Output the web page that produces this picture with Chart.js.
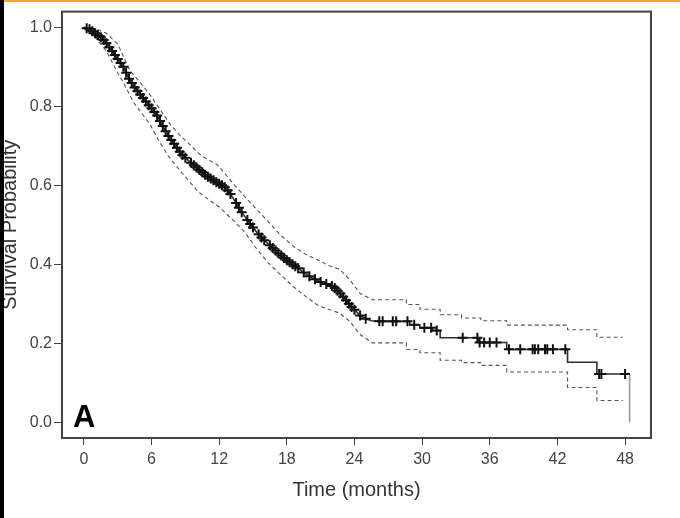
<!DOCTYPE html>
<html>
<head>
<meta charset="utf-8">
<script src="https://cdn.jsdelivr.net/npm/chart.js@4.4.1/dist/chart.umd.min.js"></script>
<style>
  html, body { margin: 0; padding: 0; background: #fff; }
  #quadro { position: relative; width: 680px; height: 518px; overflow: hidden; }
  #faixa { position: absolute; left: 0; top: 0; width: 680px; height: 2px; background: #f0a53a; }
  #barra { position: absolute; left: 0; top: 0; width: 4px; height: 518px; background: #000; }
</style>
</head>
<body>
<div id="quadro">
  <canvas id="grafico1" width="680" height="518"></canvas>
  <div id="faixa"></div>
  <div id="barra"></div>
</div>
<script>
// Curva de Kaplan-Meier (tempo em meses, probabilidade de sobrevida, 1 = censura "+")
var kmTime = [
  0, 0.25, 0.5, 0.75, 1, 1.25, 1.5, 1.75, 2, 2.25,
  2.5, 2.75, 3, 3.25, 3.5, 3.75, 4, 4.25, 4.5, 4.75,
  5, 5.25, 5.5, 5.75, 6, 6.25, 6.5, 6.75, 7, 7.25,
  7.5, 7.75, 8, 8.25, 8.5, 8.75, 9, 9.25, 9.5, 9.75,
  10, 10.25, 10.5, 10.75, 11, 11.25, 11.5, 11.75, 12, 12.25,
  12.5, 12.75, 13, 13.25, 13.5, 13.75, 14, 14.25, 14.5, 14.75,
  15, 15.25, 15.5, 15.75, 16, 16.5, 16.75, 17, 17.25, 17.5,
  17.75, 18, 18.25, 18.5, 18.75, 19, 19.5, 20, 20.5, 21,
  21.5, 22, 22.25, 22.5, 22.75, 23, 23.25, 23.5, 23.75, 24,
  24.5, 25, 25.5, 26.2, 26.5, 27.4, 27.7, 28.7, 28.9, 28.9,
  29.3, 29.8, 29.8, 30.2, 30.8, 30.9, 30.9, 31.3, 31.6, 31.6,
  33.6, 34.9, 35.0, 35.0, 35.1, 35.5, 36.0, 36.6, 37.5, 37.5,
  37.7, 38.7, 39.8, 40.0, 40.3, 40.9, 41.1, 41.6, 42.7, 42.9,
  42.9, 45.5, 45.5, 45.7, 45.9, 48.0, 48.4, 48.4
];
var kmSurv = [
  1.000, 0.998, 0.995, 0.990, 0.985, 0.980, 0.975, 0.968, 0.960, 0.950,
  0.940, 0.930, 0.920, 0.910, 0.900, 0.885, 0.870, 0.859, 0.848, 0.839,
  0.830, 0.821, 0.812, 0.803, 0.795, 0.786, 0.777, 0.763, 0.750, 0.737,
  0.725, 0.715, 0.705, 0.695, 0.685, 0.677, 0.670, 0.663, 0.657, 0.651,
  0.645, 0.639, 0.633, 0.627, 0.622, 0.617, 0.613, 0.608, 0.604, 0.600,
  0.595, 0.587, 0.578, 0.567, 0.555, 0.543, 0.532, 0.522, 0.512, 0.502,
  0.493, 0.484, 0.476, 0.468, 0.461, 0.448, 0.441, 0.435, 0.428, 0.422,
  0.416, 0.410, 0.405, 0.400, 0.395, 0.390, 0.379, 0.370, 0.362, 0.355,
  0.350, 0.345, 0.340, 0.333, 0.326, 0.318, 0.309, 0.300, 0.292, 0.285,
  0.270, 0.262, 0.257, 0.2555, 0.2555, 0.2555, 0.2555, 0.2555, 0.2555, 0.247,
  0.247, 0.247, 0.239, 0.239, 0.239, 0.239, 0.232, 0.232, 0.232, 0.214,
  0.214, 0.214, 0.214, 0.202, 0.202, 0.202, 0.202, 0.202, 0.202, 0.1845,
  0.1845, 0.1845, 0.1845, 0.1845, 0.1845, 0.1845, 0.1845, 0.1845, 0.1845, 0.1845,
  0.152, 0.152, 0.122, 0.122, 0.122, 0.122, 0.122, 0
];
var kmCensor = [
  0, 1, 1, 1, 1, 1, 1, 1, 1, 1,
  1, 1, 1, 1, 1, 1, 1, 1, 1, 1,
  1, 1, 1, 1, 1, 1, 1, 1, 1, 1,
  1, 1, 1, 1, 1, 1, 1, 0, 1, 1,
  1, 1, 1, 1, 1, 1, 1, 1, 1, 1,
  1, 1, 1, 0, 1, 1, 1, 0, 1, 1,
  1, 0, 1, 1, 1, 1, 1, 1, 1, 1,
  1, 1, 1, 1, 1, 1, 1, 1, 1, 1,
  1, 1, 1, 1, 1, 1, 1, 1, 1, 1,
  1, 1, 0, 1, 1, 1, 1, 1, 0, 0,
  1, 0, 0, 1, 1, 0, 0, 1, 0, 0,
  1, 1, 0, 0, 1, 1, 1, 1, 0, 0,
  1, 1, 1, 1, 1, 1, 1, 1, 1, 0,
  0, 0, 0, 1, 1, 1, 0, 0
];

// Intervalo de confiança 95% (limite superior e inferior)
var ciUpTime = [
  0, 1, 2, 3, 4.1, 5, 5.9, 6.8, 7.7, 8.5,
  9.4, 10.3, 11, 11.8, 12.5, 13.3, 14.3, 15.3, 16.3, 17.4,
  18.6, 19.7, 20.8, 21.7, 22.7, 23.6, 24.5, 25.6, 28.6, 28.6,
  29.8, 29.8, 31.6, 31.6, 33.5, 33.5, 35.2, 35.2, 37.5, 37.5,
  42.9, 42.9, 45.5, 45.5, 47.8
];
var ciUpSurv = [
  1.0, 0.997, 0.985, 0.958, 0.89, 0.86, 0.828, 0.79, 0.753, 0.727,
  0.703, 0.678, 0.665, 0.653, 0.63, 0.603, 0.57, 0.54, 0.51, 0.475,
  0.445, 0.425, 0.41, 0.397, 0.387, 0.36, 0.326, 0.31, 0.31, 0.298,
  0.298, 0.286, 0.286, 0.272, 0.272, 0.264, 0.264, 0.257, 0.257, 0.246,
  0.246, 0.234, 0.234, 0.215, 0.215
];
var ciLoTime = [
  0, 1, 2, 2.9, 3.6, 4.4, 5.2, 5.9, 6.6, 7.4,
  8.1, 8.8, 9.5, 10.2, 11, 12, 13.3, 14.3, 15.3, 16.3,
  17.4, 18.5, 19.7, 20.8, 21.8, 22.7, 23.6, 24.5, 25.6, 28.6,
  28.6, 29.8, 29.8, 31.6, 31.6, 33.5, 33.5, 35.2, 35.2, 37.5,
  37.5, 42.9, 42.9, 45.5, 45.5, 47.8
];
var ciLoSurv = [
  1.0, 0.975, 0.94, 0.89, 0.855, 0.81, 0.78, 0.753, 0.715, 0.678,
  0.652, 0.628, 0.605, 0.582, 0.565, 0.545, 0.51, 0.48, 0.44, 0.405,
  0.375, 0.345, 0.318, 0.295, 0.285, 0.276, 0.255, 0.222, 0.201, 0.201,
  0.184, 0.184, 0.176, 0.176, 0.157, 0.157, 0.151, 0.151, 0.144, 0.144,
  0.127, 0.127, 0.088, 0.088, 0.055, 0.055
];

// Marcas dos eixos e textos
var xTicks = [0, 6, 12, 18, 24, 30, 36, 42, 48];
var yTicks = [0, 0.2, 0.4, 0.6, 0.8, 1.0];
var tituloX = 'Time (months)';
var tituloY = 'Survival Probability';
var painelLetra = 'A';

var fonte = '"Liberation Sans", Arial, Helvetica, sans-serif';

function pontos(tempos, valores) {
    return tempos.map(function (t, i) { return { x: t, y: valores[i] }; });
}

// moldura em volta da área do gráfico + letra do painel
var moldura = {
    id: 'moldura',
    afterDatasetsDraw: function (chart) {
        var ctx = chart.ctx;
        var a = chart.chartArea;
        ctx.save();
        ctx.strokeStyle = '#444';
        ctx.lineWidth = 2;
        ctx.strokeRect(a.left, a.top, a.right - a.left, a.bottom - a.top);
        ctx.fillStyle = '#000';
        ctx.font = 'bold 31px ' + fonte;
        ctx.textBaseline = 'alphabetic';
        ctx.textAlign = 'left';
        ctx.fillText(painelLetra, a.left + 11, a.bottom - 11);
        ctx.restore();
    }
};

function criarGrafico(idDaDiv) {
    var ctx = document.getElementById(idDaDiv).getContext('2d');
    return new Chart(ctx, {
        type: 'scatter',
        data: {
            datasets: [{
                label: 'KM',
                data: pontos(kmTime, kmSurv),
                showLine: true,
                borderColor: '#2e2e2e',
                borderWidth: 1.6,
                pointStyle: 'cross',
                pointRadius: function (c) { return kmCensor[c.dataIndex] ? 5 : 0; },
                pointHoverRadius: 0,
                pointBorderColor: '#111',
                pointBorderWidth: 2,
                segment: {
                    borderColor: function (c) { return c.p0.parsed.x >= 48.4 ? '#9a9a9a' : undefined; }
                }
            }, {
                label: 'Upper',
                data: pontos(ciUpTime, ciUpSurv),
                showLine: true,
                borderColor: '#555',
                borderWidth: 1.1,
                borderDash: [4, 3],
                pointRadius: 0
            }, {
                label: 'Lower',
                data: pontos(ciLoTime, ciLoSurv),
                showLine: true,
                borderColor: '#555',
                borderWidth: 1.1,
                borderDash: [4, 3],
                pointRadius: 0
            }]
        },
        options: {
            responsive: false,
            animation: false,
            events: [],
            layout: { padding: { top: 5, right: 29, left: 0, bottom: 0 } },
            plugins: { legend: { display: false }, tooltip: { enabled: false } },
            scales: {
                x: {
                    type: 'linear',
                    min: -1.94,
                    max: 50.3,
                    afterBuildTicks: function (s) { s.ticks = xTicks.map(function (v) { return { value: v }; }); },
                    afterFit: function (s) { s.height = 80; },
                    grid: { drawOnChartArea: false, drawTicks: true, tickLength: 7, color: '#444', lineWidth: 1 },
                    border: { display: false },
                    ticks: { font: { family: fonte, size: 16 }, color: '#444', padding: 5, maxRotation: 0, autoSkip: false },
                    title: {
                        display: true, text: tituloX, color: '#333',
                        font: { family: fonte, size: 20, lineHeight: 1.2 },
                        padding: { top: 0, bottom: 16 }
                    }
                },
                y: {
                    type: 'linear',
                    min: -0.04,
                    max: 1.04,
                    afterBuildTicks: function (s) { s.ticks = yTicks.map(function (v) { return { value: v }; }); },
                    afterFit: function (s) { s.width = 62; },
                    grid: { drawOnChartArea: false, drawTicks: true, tickLength: 8, color: '#444', lineWidth: 1 },
                    border: { display: false },
                    ticks: {
                        font: { family: fonte, size: 16 }, color: '#444', padding: 2,
                        callback: function (v) { return v.toFixed(1); }
                    },
                    title: {
                        display: true, text: tituloY, color: '#333',
                        font: { family: fonte, size: 20, lineHeight: 1.0 },
                        padding: 0
                    }
                }
            }
        },
        plugins: [moldura]
    });
}

criarGrafico('grafico1');
</script>
</body>
</html>
